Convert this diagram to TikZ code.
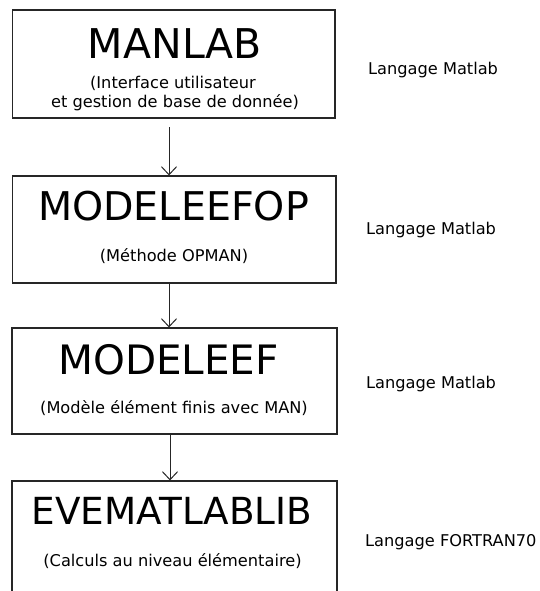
\documentclass[tikz,border=0pt]{standalone}
\usepackage{fontspec}
\setmainfont{DejaVu Sans}
\usetikzlibrary{arrows.meta}
\begin{document}
\begin{tikzpicture}[x=1pt,y=-1pt,
  box/.style={draw=black!85,line width=1.1pt,rectangle,inner sep=0pt},
  title/.style={inner sep=0pt,anchor=center},
  sub/.style={inner sep=0pt,anchor=base,font=\fontsize{16.2}{16.2}\selectfont},
  lang/.style={inner sep=0pt,anchor=base west,font=\fontsize{16.2}{16.2}\selectfont},
  arr/.style={draw=black!85,line width=1pt,-{Straight Barb[length=8pt,width=15pt,line width=1pt]}}]
\useasboundingbox (0,0) rectangle (539,591);
\clip (0,0) rectangle (539,591);
% boxes
\node[box,minimum width=322.5pt,minimum height=108pt] (b1) at (173.75,64) {};
\node[box,minimum width=323.5pt,minimum height=107pt] (b2) at (174.25,229.5) {};
\node[box,minimum width=325pt,minimum height=106pt] (b3) at (174.5,381) {};
\node[box,minimum width=325pt,minimum height=200pt] (b4) at (174.5,581) {};
% titles
\node[title,font=\fontsize{41}{41}\selectfont] (t1) at (175,43.5) {MANLAB};
\node[title,font=\fontsize{39.6}{39.6}\selectfont] (t2) at (173.5,206.5) {MODELEEFOP};
\node[title,font=\fontsize{40.5}{40.5}\selectfont] (t3) at (168.5,360) {MODELEEF};
\node[title,font=\fontsize{37.3}{37.3}\selectfont] (t4) at (172,511) {EVEMATLABLIB};
% subtitles
\node[sub] (s1a) at (173,89) {(Interface utilisateur};
\node[sub] (s1b) at (175,108) {et gestion de base de donnée)};
\node[sub] (s2) at (174,261) {(Méthode OPMAN)};
\node[sub] (s3) at (174,413) {(Modèle élément finis avec MAN)};
\node[sub] (s4) at (172.5,566) {(Calculs au niveau élémentaire)};
% language labels
\node[lang] (l1) at (368,75) {Langage Matlab};
\node[lang] (l2) at (366,234) {Langage Matlab};
\node[lang] (l3) at (366,388) {Langage Matlab};
\node[lang] (l4) at (365,546) {Langage FORTRAN70};
% arrows
\coordinate (a1) at (169,127);
\coordinate (a2) at (169,283);
\coordinate (a3) at (170,434);
\draw[arr] (a1) -- (a1 |- b2.north);
\draw[arr] (a2) -- (a2 |- b3.north);
\draw[arr] (a3) -- (a3 |- b4.north);
\end{tikzpicture}
\end{document}
